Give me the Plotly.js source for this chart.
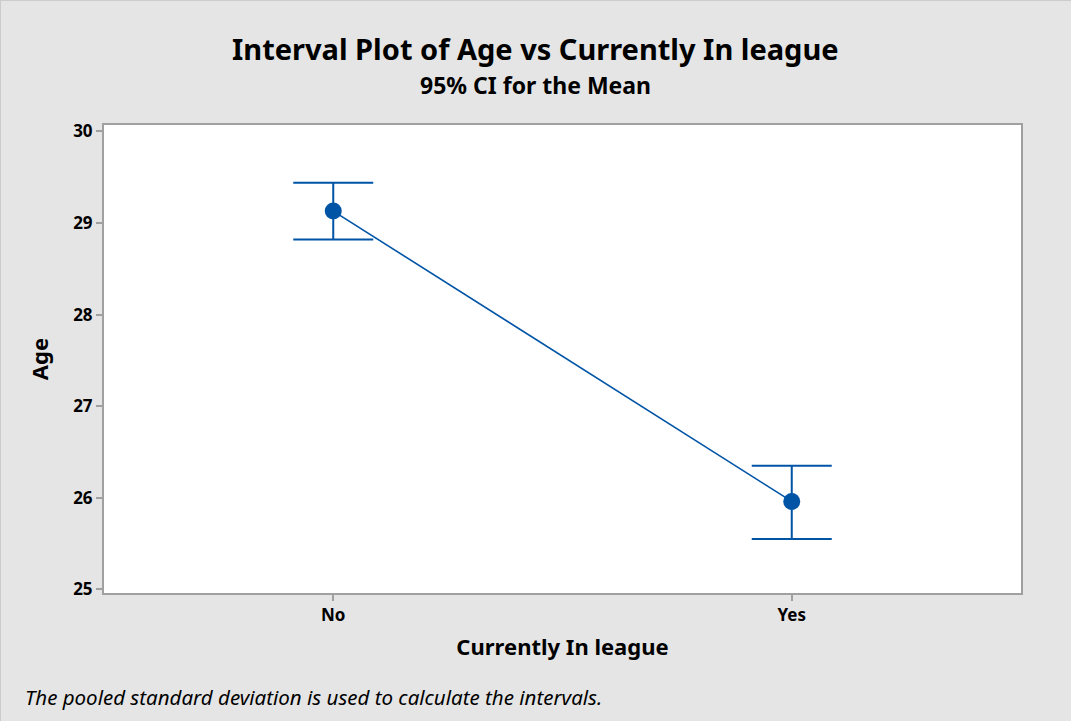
<!DOCTYPE html>
<html><head><meta charset="utf-8">
<script src="https://cdn.plot.ly/plotly-3.0.1.min.js"></script>
<style>body{margin:0;background:#e5e5e5}#chart{width:1071px;height:721px}</style>
</head><body><div id="chart"></div>
<script>
const categories = ["No", "Yes"];
const means = [29.13, 25.96];
const upperCI = [29.44, 26.35];
const lowerCI = [28.82, 25.55];
const yTicks = [25, 26, 27, 28, 29, 30];

const blue = '#0054a6';
const font = "'Noto Sans', 'Open Sans', sans-serif";

const W = 1071, H = 721;
const M = {l: 104, r: 50, t: 125, b: 128};
const pw = W - M.l - M.r, ph = H - M.t - M.b;

const trace = {
  x: categories,
  y: means,
  type: 'scatter',
  mode: 'lines+markers',
  line: {color: blue, width: 1.6},
  marker: {color: blue, size: 17},
  error_y: {
    type: 'data', symmetric: false,
    array: upperCI.map((u, i) => u - means[i]),
    arrayminus: means.map((m, i) => m - lowerCI[i]),
    color: blue, thickness: 2, width: 40
  },
  hoverinfo: 'x+y'
};

const layout = {
  width: W, height: H,
  paper_bgcolor: '#e5e5e5', plot_bgcolor: '#ffffff',
  margin: M,
  showlegend: false,
  font: {family: font, color: '#000'},
  xaxis: {
    type: 'category', range: [-0.5, 1.5],
    showgrid: false, zeroline: false,
    showline: true, linecolor: '#a0a0a0', linewidth: 2, mirror: true,
    ticks: 'outside', ticklen: 6, tickcolor: '#a0a0a0', tickwidth: 2,
    tickfont: {size: 17, family: font, weight: 'bold'},
    title: {text: 'Currently In league', font: {size: 22, family: font, weight: 'bold'}, standoff: 14}
  },
  yaxis: {
    range: [24.96, 30.07], tickvals: yTicks,
    showgrid: false, zeroline: false,
    showline: true, linecolor: '#a0a0a0', linewidth: 2, mirror: true,
    ticks: 'outside', ticklen: 6, tickcolor: '#a0a0a0', tickwidth: 2,
    tickfont: {size: 17, family: font, weight: 'bold'},
    title: {text: 'Age', font: {size: 22, family: font, weight: 'bold'}, standoff: 18}
  },
  shapes: [
    {type: 'line', xref: 'paper', yref: 'paper', x0: -M.l / pw, x1: -M.l / pw, y0: -M.b / ph, y1: 1 + M.t / ph,
     line: {color: '#cccccc', width: 2}},
    {type: 'line', xref: 'paper', yref: 'paper', x0: -M.l / pw, x1: 1 + M.r / pw, y0: 1 + M.t / ph, y1: 1 + M.t / ph,
     line: {color: '#cccccc', width: 2}}
  ],
  annotations: [
    {text: '<b>Interval Plot of Age vs Currently In league</b>', xref: 'paper', yref: 'paper',
     x: 0.5, y: 1, xshift: -27, yshift: 77, xanchor: 'center', yanchor: 'middle', showarrow: false,
     font: {size: 29, family: font}},
    {text: '<b>95% CI for the Mean</b>', xref: 'paper', yref: 'paper',
     x: 0.5, y: 1, xshift: -27, yshift: 40, xanchor: 'center', yanchor: 'middle', showarrow: false,
     font: {size: 23, family: font}},
    {text: '<i>The pooled standard deviation is used to calculate the intervals.</i>', xref: 'paper', yref: 'paper',
     x: 0, y: 0, xshift: -81, yshift: -104, xanchor: 'left', yanchor: 'middle', showarrow: false,
     font: {size: 20.5, family: font}}
  ]
};

Plotly.newPlot('chart', [trace], layout, {displayModeBar: false, responsive: false});
</script></body></html>
